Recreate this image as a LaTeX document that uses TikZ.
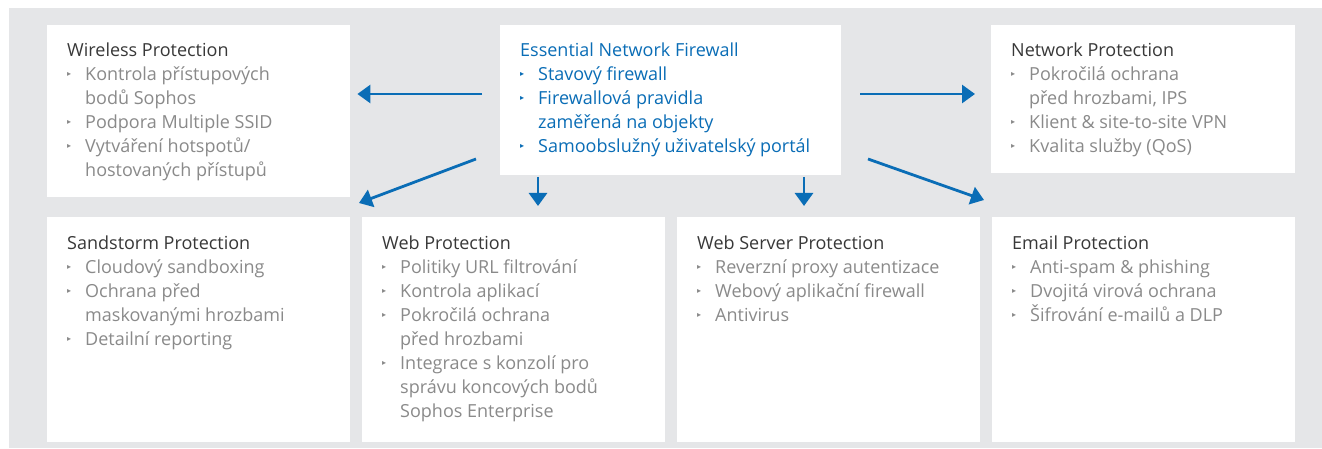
\documentclass[tikz,border=0pt]{standalone}
\usepackage{fontspec}
\setmainfont{Open Sans}
\newfontfamily\symfont{DejaVu Sans}
\usetikzlibrary{positioning,arrows.meta}

\definecolor{panelgray}{HTML}{E5E6E8}
\definecolor{headgray}{HTML}{383838}
\definecolor{itemgray}{HTML}{8A8A8A}
\definecolor{sophblue}{HTML}{0A6DB6}

% small bullet and list items with hanging indent
\newcommand\bul{\makebox[18pt][l]{\raisebox{4pt}{\symfont\fontsize{8}{8}\selectfont ▸}}}
\newcommand\itm{\par\hangindent=18pt\hangafter=1\noindent\bul}
\newcommand\boxtext[4]{%
  \begin{minipage}[t]{290pt}\raggedright\fontsize{18}{24}\selectfont
  \leavevmode\color{#1}#3\par\color{#2}#4\end{minipage}}

\begin{document}
\begin{tikzpicture}[x=1pt,y=-1pt,
    panel/.style={fill=white,draw=none,inner sep=0pt,anchor=north west,
                  minimum width=303pt},
    boxlabel/.style={anchor=base west,inner sep=0pt},
    arr/.style={-{Triangle[length=13pt,width=18pt]},line width=2.8pt,
                draw=sophblue}]
  \useasboundingbox (0,0) rectangle (1322,449);
  \fill[white] (0,0) rectangle (1322,449);
  \fill[panelgray] (9,8) rectangle (1322,448);

  % top row
  \node[panel,minimum height=172pt]                   (wireless) at (47,25)  {};
  \node[panel,minimum width=341pt,minimum height=150pt] (firewall) at (500,25) {};
  \node[panel,minimum width=304pt,minimum height=148pt] (network)  at (991,25) {};
  % bottom row
  \node[panel,minimum height=225pt] (sandstorm) at (47,217)  {};
  \node[panel,minimum height=225pt] (web)       at (362,217) {};
  \node[panel,minimum height=225pt] (webserver) at (677,217) {};
  \node[panel,minimum height=225pt] (email)     at (992,217) {};

  \node[boxlabel] (wireless-t) at ([shift={(20,32)}]wireless.north west)
    {\boxtext{headgray}{itemgray}{Wireless Protection}{%
      \itm Kontrola přístupových\newline bodů Sophos
      \itm Podpora Multiple SSID
      \itm Vytváření hotspotů/\newline hostovaných přístupů}};
  \node[boxlabel] (firewall-t) at ([shift={(20,32)}]firewall.north west)
    {\boxtext{sophblue}{sophblue}{Essential Network Firewall}{%
      \itm Stavový firewall
      \itm Firewallová pravidla\newline zaměřená na objekty
      \itm Samoobslužný uživatelský portál}};
  \node[boxlabel] (network-t) at ([shift={(20,32)}]network.north west)
    {\boxtext{headgray}{itemgray}{Network Protection}{%
      \itm Pokročilá ochrana\newline před hrozbami, IPS
      \itm Klient \& site-to-site VPN
      \itm Kvalita služby (QoS)}};
  \node[boxlabel] (sandstorm-t) at ([shift={(20,32)}]sandstorm.north west)
    {\boxtext{headgray}{itemgray}{Sandstorm Protection}{%
      \itm Cloudový sandboxing
      \itm Ochrana před\newline maskovanými hrozbami
      \itm Detailní reporting}};
  \node[boxlabel] (web-t) at ([shift={(20,32)}]web.north west)
    {\boxtext{headgray}{itemgray}{Web Protection}{%
      \itm Politiky URL filtrování
      \itm Kontrola aplikací
      \itm Pokročilá ochrana\newline před hrozbami
      \itm Integrace s konzolí pro\newline správu koncových bodů\newline Sophos Enterprise}};
  \node[boxlabel] (webserver-t) at ([shift={(20,32)}]webserver.north west)
    {\boxtext{headgray}{itemgray}{Web Server Protection}{%
      \itm Reverzní proxy autentizace
      \itm Webový aplikační firewall
      \itm Antivirus}};
  \node[boxlabel] (email-t) at ([shift={(20,32)}]email.north west)
    {\boxtext{headgray}{itemgray}{Email Protection}{%
      \itm Anti-spam \& phishing
      \itm Dvojitá virová ochrana
      \itm Šifrování e-mailů a DLP}};

  % arrow ends
  \coordinate (fw-l)  at (482,94);
  \coordinate (fw-r)  at (860,94);
  \coordinate (fw-sw) at (476,159);
  \coordinate (fw-se) at (868,159);
  \coordinate (fw-d1) at (538,177);
  \coordinate (fw-d2) at (804,177);
  \coordinate (sand-in)  at (359,203);
  \coordinate (email-in) at (984,200);

  \draw[arr] (fw-l) -- (wireless.east |- fw-l) [shorten >=7pt];
  \draw[arr] (fw-r) -- (network.west |- fw-r) [shorten >=16pt];
  \draw[arr] (fw-sw) -- (sand-in);
  \draw[arr] (fw-se) -- (email-in);
  \draw[arr] (fw-d1) -- (fw-d1 |- web.north) [shorten >=11pt];
  \draw[arr] (fw-d2) -- (fw-d2 |- webserver.north) [shorten >=11pt];
\end{tikzpicture}
\end{document}
